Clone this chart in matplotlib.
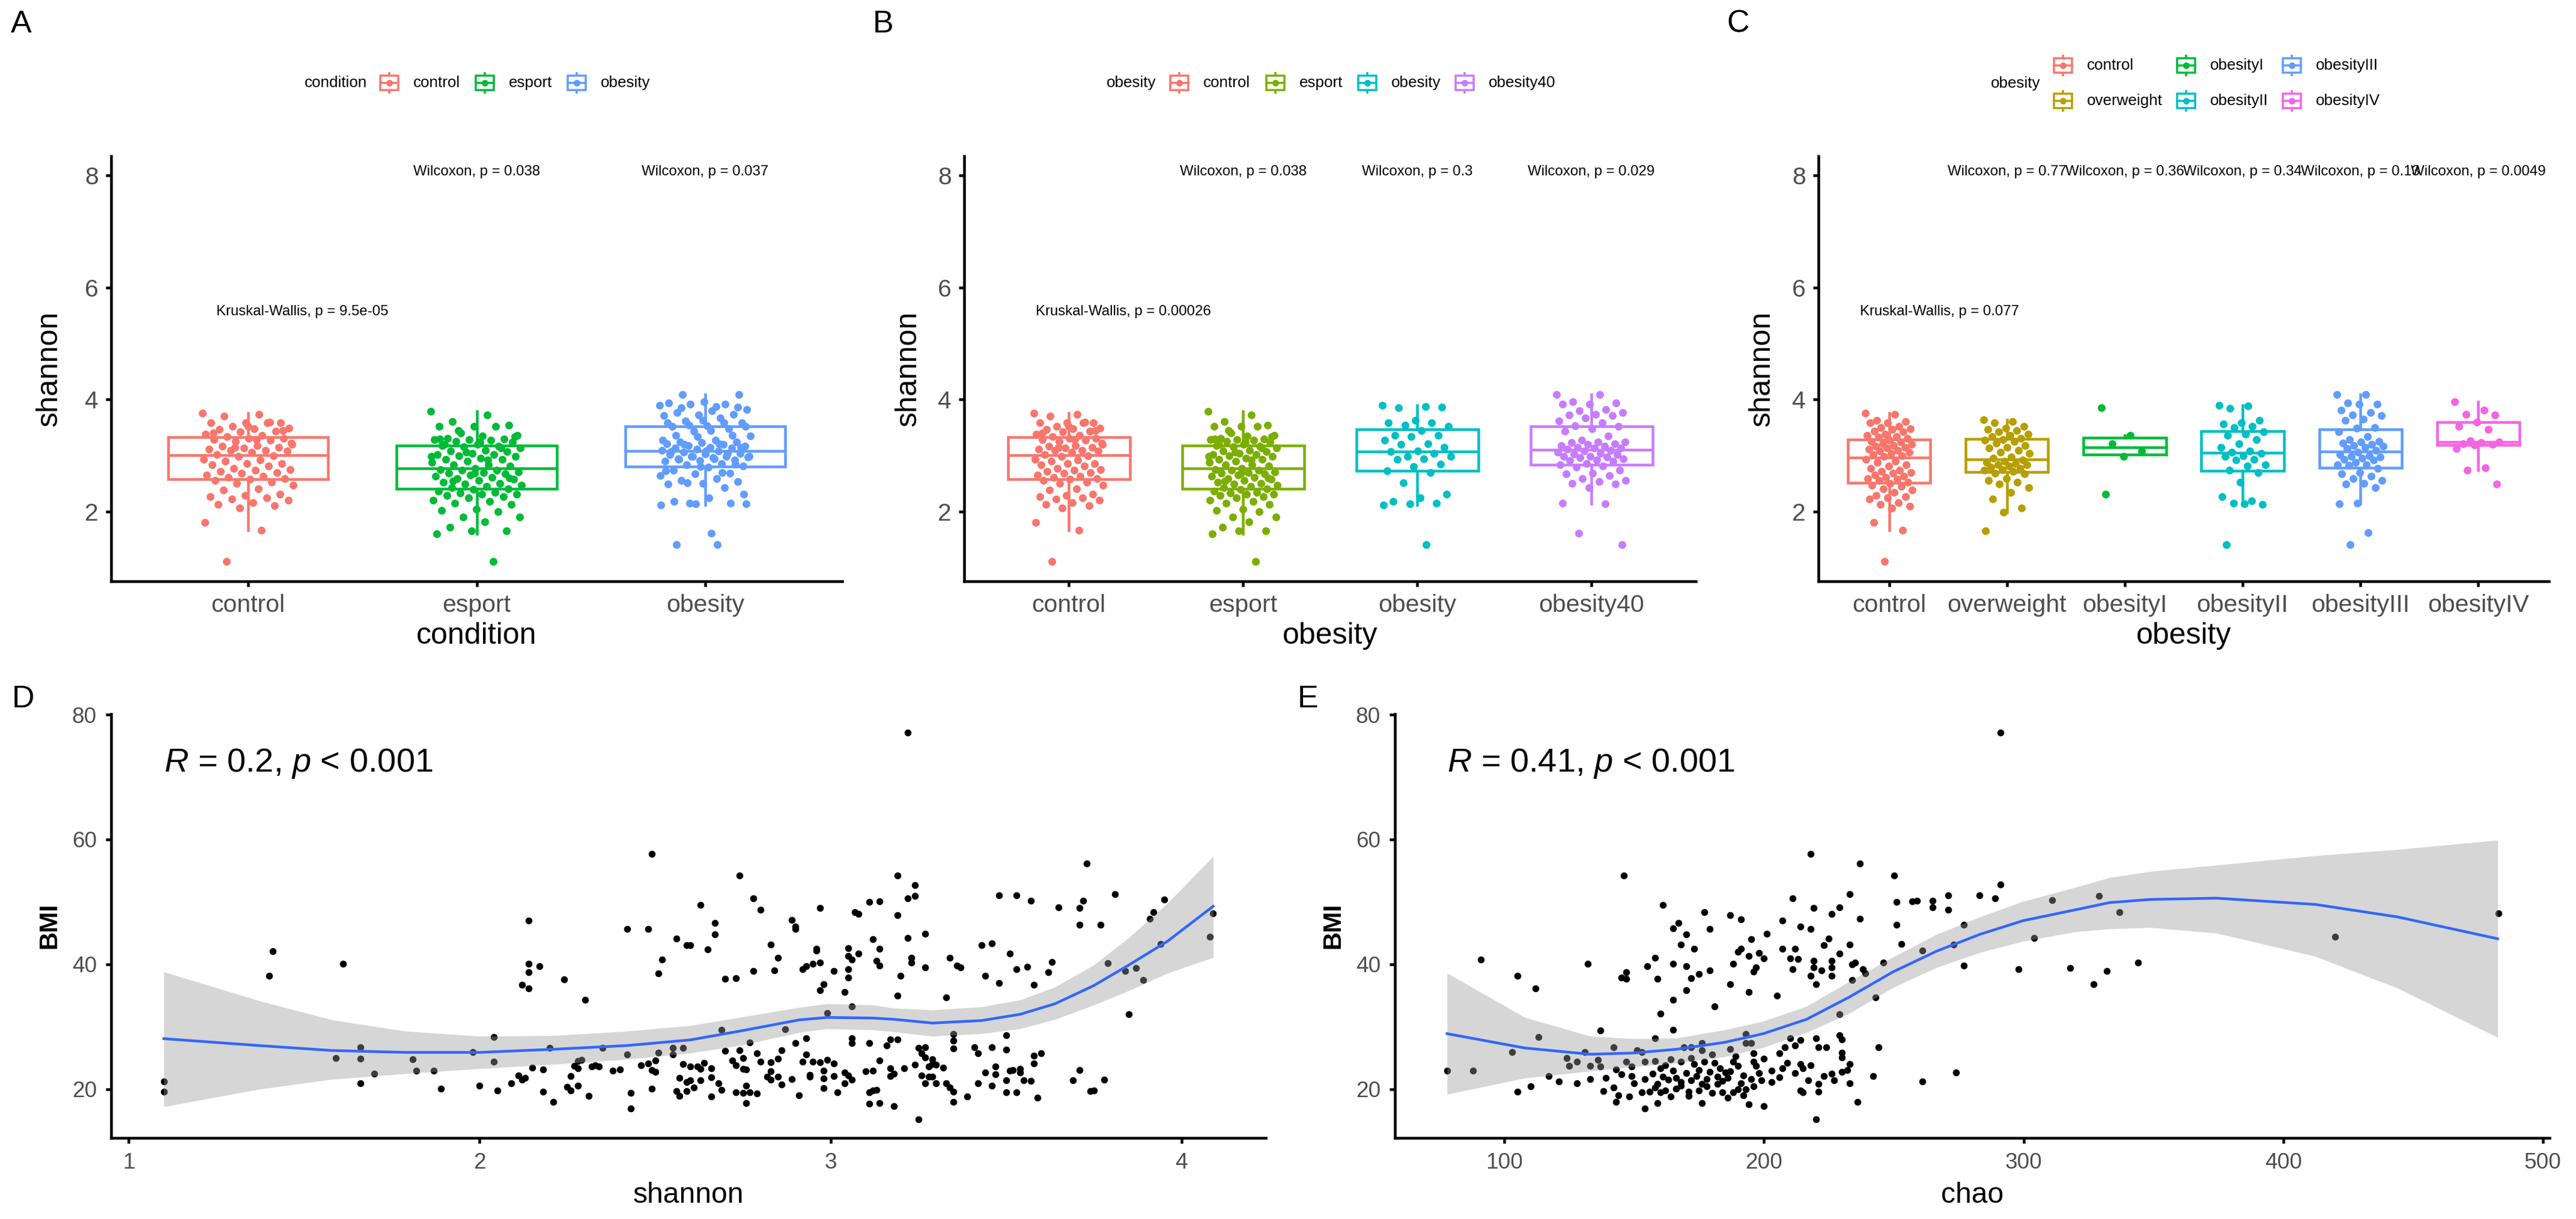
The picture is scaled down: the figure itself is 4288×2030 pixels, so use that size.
import numpy as np
import matplotlib
matplotlib.use("Agg")
import matplotlib.pyplot as plt
from matplotlib.patches import Rectangle

plt.rcParams['font.family'] = ['Liberation Sans', 'DejaVu Sans']
plt.rcParams['mathtext.fontset'] = 'custom'
plt.rcParams['mathtext.rm'] = 'Liberation Sans'
plt.rcParams['mathtext.it'] = 'Liberation Sans:italic'

# %% data: shannon values per group (top row)
control = [3.76, 3.74, 3.70, 3.59, 3.59, 3.59, 3.58, 3.52, 3.49, 3.48, 3.47, 3.43, 3.42, 3.38, 3.36,
           3.34, 3.31, 3.31, 3.29, 3.27, 3.25, 3.20, 3.18, 3.17, 3.15, 3.13, 3.11, 3.09, 3.09, 3.08,
           3.06, 3.02, 3.00, 2.99, 2.93, 2.92, 2.90, 2.86, 2.86, 2.83, 2.81, 2.77, 2.75, 2.74, 2.72,
           2.70, 2.68, 2.65, 2.63, 2.61, 2.59, 2.58, 2.56, 2.52, 2.50, 2.47, 2.41, 2.38, 2.31, 2.29,
           2.27, 2.25, 2.22, 2.20, 2.16, 2.13, 2.11, 2.06, 1.81, 1.67, 1.11,
           3.45, 3.52, 3.40, 3.60, 3.15, 3.22, 3.28]
esport = [3.79, 3.72, 3.61, 3.54, 3.52, 3.52, 3.52, 3.40, 3.36, 3.35, 3.31, 3.30, 3.29, 3.29, 3.27,
          3.25, 3.24, 3.20, 3.18, 3.17, 3.16, 3.13, 3.09, 3.08, 3.07, 3.04, 3.02, 3.02, 3.00, 2.99,
          2.95, 2.93, 2.93, 2.90, 2.88, 2.84, 2.83, 2.81, 2.77, 2.75, 2.74, 2.74, 2.71, 2.70, 2.68,
          2.67, 2.65, 2.63, 2.61, 2.59, 2.58, 2.56, 2.52, 2.50, 2.49, 2.47, 2.45, 2.43, 2.41, 2.40,
          2.36, 2.34, 2.33, 2.31, 2.31, 2.29, 2.27, 2.25, 2.20, 2.18, 2.15, 2.13, 2.04, 2.02, 2.00,
          1.90, 1.90, 1.82, 1.72, 1.66, 1.66, 1.60, 1.11,
          3.45, 3.34, 3.24, 3.20, 3.13, 3.06, 2.99, 2.92, 2.55, 2.60, 2.68, 3.30]
obesity = [3.90, 3.87, 3.85, 3.86, 3.63, 3.59, 3.58, 3.54, 3.52, 3.45, 3.36, 3.36, 3.34, 3.27, 3.21,
           3.20, 3.15, 3.08, 3.07, 3.04, 2.99, 2.98, 2.94, 2.93, 2.85, 2.80, 2.73, 2.70, 2.51, 2.31,
           2.25, 2.18, 2.15, 2.14, 2.12, 1.41]
obesity40 = [4.09, 4.09, 3.96, 3.94, 3.92, 3.92, 3.82, 3.80, 3.77, 3.74, 3.72, 3.71, 3.67, 3.62, 3.59,
             3.53, 3.52, 3.48, 3.43, 3.35, 3.27, 3.24, 3.24, 3.23, 3.21, 3.20, 3.18, 3.17, 3.15, 3.14,
             3.13, 3.11, 3.09, 3.08, 3.06, 3.04, 3.03, 3.02, 2.99, 2.99, 2.97, 2.96, 2.94, 2.92, 2.91,
             2.90, 2.86, 2.84, 2.81, 2.79, 2.74, 2.68, 2.67, 2.64, 2.59, 2.56, 2.53, 2.50, 2.49, 2.43,
             2.15, 2.14, 1.61, 1.41]
obesity_all = obesity + obesity40

c_control = [3.76, 3.74, 3.63, 3.61, 3.59, 3.58, 3.52, 3.50, 3.48, 3.47, 3.43, 3.42, 3.38, 3.36, 3.34,
             3.33, 3.31, 3.27, 3.25, 3.24, 3.21, 3.20, 3.18, 3.17, 3.15, 3.13, 3.11, 3.09, 3.08, 3.06,
             3.04, 3.02, 3.00, 2.99, 2.93, 2.90, 2.88, 2.84, 2.81, 2.77, 2.74, 2.72, 2.70, 2.68, 2.65,
             2.63, 2.61, 2.59, 2.58, 2.56, 2.52, 2.50, 2.47, 2.45, 2.41, 2.38, 2.34, 2.29, 2.27, 2.25,
             2.22, 2.16, 2.13, 2.09, 2.06, 1.81, 1.67, 1.11]
c_overweight = [3.64, 3.61, 3.58, 3.52, 3.49, 3.47, 3.45, 3.42, 3.38, 3.36, 3.34, 3.31, 3.29, 3.27,
                3.25, 3.22, 3.18, 3.15, 3.13, 3.09, 3.06, 3.04, 2.97, 2.95, 2.92, 2.90, 2.88, 2.86,
                2.84, 2.83, 2.81, 2.79, 2.77, 2.75, 2.74, 2.72, 2.68, 2.67, 2.59, 2.56, 2.52, 2.49,
                2.43, 2.34, 2.22, 2.06, 1.99, 1.66]
c_obesity1 = [3.85, 3.36, 3.21, 3.08, 2.99, 2.31]
c_obesity2 = [3.90, 3.88, 3.84, 3.63, 3.59, 3.56, 3.52, 3.50, 3.42, 3.38, 3.36, 3.29, 3.21, 3.15, 3.08,
              3.06, 3.04, 3.00, 2.99, 2.93, 2.92, 2.84, 2.81, 2.74, 2.70, 2.52, 2.27, 2.19, 2.15, 2.13,
              2.14, 1.41]
c_obesity3 = [4.09, 4.09, 3.94, 3.92, 3.92, 3.81, 3.77, 3.72, 3.71, 3.65, 3.63, 3.50, 3.49, 3.42, 3.34,
              3.29, 3.25, 3.24, 3.22, 3.20, 3.18, 3.17, 3.15, 3.12, 3.09, 3.06, 3.02, 3.00, 2.99, 2.97,
              2.95, 2.93, 2.92, 2.88, 2.84, 2.83, 2.82, 2.77, 2.70, 2.67, 2.63, 2.59, 2.56, 2.50, 2.49,
              2.43, 2.15, 2.14, 1.62, 1.41]
c_obesity4 = [3.96, 3.81, 3.74, 3.72, 3.60, 3.52, 3.47, 3.26, 3.24, 3.23, 3.21, 3.20, 3.19, 3.12, 2.78,
              2.74, 2.49]

cats_a = ['control', 'esport', 'obesity']
cats_b = ['control', 'esport', 'obesity', 'obesity40']
cats_c = ['control', 'overweight', 'obesityI', 'obesityII', 'obesityIII', 'obesityIV']

kw_a = 'Kruskal-Wallis, p = 9.5e-05'
kw_b = 'Kruskal-Wallis, p = 0.00026'
kw_c = 'Kruskal-Wallis, p = 0.077'
wil_a = ['Wilcoxon, p = 0.038', 'Wilcoxon, p = 0.037']
wil_b = ['Wilcoxon, p = 0.038', 'Wilcoxon, p = 0.3', 'Wilcoxon, p = 0.029']
wil_c = ['Wilcoxon, p = 0.77', 'Wilcoxon, p = 0.36', 'Wilcoxon, p = 0.34', 'Wilcoxon, p = 0.13',
         'Wilcoxon, p = 0.0049']

# %% data: scatter panels (bottom row)
shannon_d = [1.10, 1.10, 1.41, 1.40, 1.61, 1.59, 1.66, 1.66, 1.66, 1.70, 1.81, 1.82, 1.87, 1.89, 1.98,
             2.00, 2.04, 2.04, 2.05, 2.09, 2.11, 2.12, 2.13, 2.12, 2.14, 2.14, 2.14, 2.14, 2.17, 2.15,
             2.18, 2.18, 2.20, 2.21, 2.24, 2.26, 2.25, 2.26, 2.28, 2.27, 2.28, 2.28, 2.29, 2.30, 2.31,
             2.32, 2.33, 2.34, 2.35, 2.38, 2.40, 2.42, 2.42, 2.43, 2.43, 2.46, 2.48, 2.48, 2.49, 2.49,
             2.49, 2.50, 2.50, 2.51, 2.51, 2.52, 2.55, 2.55, 2.56, 2.56, 2.57, 2.57, 2.58, 2.58, 2.59,
             2.59, 2.59,
             3.22, 2.60, 2.63, 2.65, 2.67, 2.67, 2.70, 2.73, 2.74, 2.78, 2.78, 2.80, 2.83, 2.84, 2.85,
             2.89, 2.90, 2.90, 2.92, 2.93, 2.95, 2.97, 2.96, 2.96, 2.97, 2.98, 2.97, 3.01, 3.04, 3.05,
             3.05, 3.06, 3.05, 3.05, 3.07, 3.08, 3.08, 3.11, 3.14, 3.12, 3.13, 3.14, 3.14, 3.19, 3.19,
             3.19, 3.20, 3.22, 3.22, 3.24, 3.24, 3.23, 3.23, 3.27, 3.27, 3.33, 3.34, 3.36, 3.37, 3.43,
             3.44, 3.46, 3.48, 3.48, 3.51, 3.53, 3.53, 3.57, 3.56, 3.58, 3.62, 3.63, 3.65, 3.71, 3.72,
             3.71, 3.73, 3.77, 3.79, 3.81, 3.84, 3.87, 3.89, 3.85, 3.91, 3.92, 3.94, 3.95, 4.09, 4.08,
             2.69, 2.87, 2.99, 3.06, 2.77, 2.70, 2.74, 2.79, 2.86, 2.90, 2.93, 3.06, 3.06, 3.11, 3.17,
             3.19, 3.16, 3.35, 3.35, 3.35, 3.50, 3.50, 3.41, 3.42, 3.46, 3.25, 3.27, 3.60, 3.58,
             2.60, 2.62, 2.63, 2.64, 2.66, 2.60, 2.61, 2.63, 2.66, 2.68, 2.69, 2.66, 2.72, 2.73, 2.75,
             2.75, 2.76, 2.73, 2.76, 2.75, 2.77, 2.79, 2.76, 2.80, 2.83, 2.83, 2.85, 2.82, 2.83, 2.85,
             2.86, 2.89, 2.91, 2.93, 2.92, 2.95, 2.97, 2.99, 3.01, 2.94, 2.94, 2.98, 2.98, 2.98, 3.01,
             3.02, 3.04, 3.05, 3.04, 3.06, 3.10, 3.12, 3.14, 3.11, 3.12, 3.13, 3.11, 3.14, 3.18, 3.17,
             3.18, 3.17, 3.21, 3.24, 3.26, 3.27, 3.28, 3.29, 3.29, 3.30, 3.28, 3.29, 3.30, 3.32, 3.33,
             3.34, 3.35, 3.35, 3.39, 3.25, 3.26, 3.27, 3.44, 3.47, 3.47, 3.42, 3.46, 3.50, 3.50, 3.51,
             3.52, 3.54, 3.54, 3.55, 3.57, 3.53, 3.59, 3.58, 3.71, 3.69, 3.78, 3.74, 3.75]
bmi_d = [21.2, 19.6, 42.1, 38.2, 40.1, 25.0, 26.7, 24.9, 21.0, 22.5, 24.8, 23.0, 23.0, 20.1, 26.0,
         20.6, 28.4, 24.4, 19.8, 21.0, 22.2, 21.5, 21.8, 36.7, 36.1, 40.1, 38.7, 47.0, 39.7, 23.5,
         19.6, 23.2, 26.6, 18.0, 37.6, 22.1, 20.4, 19.8, 20.6, 23.7, 24.5, 23.4, 24.7, 34.3, 18.9,
         23.6, 23.8, 23.6, 26.6, 23.0, 23.2, 45.7, 25.6, 19.4, 16.9, 23.8, 24.1, 45.7, 57.7, 20.1,
         23.1, 22.8, 24.6, 25.9, 38.6, 40.8, 26.6, 25.6, 19.7, 44.1, 21.8, 18.9, 26.6, 24.0, 21.1,
         43.1, 19.7,
         77.1, 43.1, 49.5, 42.4, 46.6, 44.8, 37.7, 37.8, 54.2, 50.6, 38.9, 48.7, 43.2, 39.0, 41.1,
         47.1, 46.1, 45.7, 39.2, 39.7, 40.1, 40.3, 42.5, 42.2, 49.0, 36.8, 35.9, 38.9, 35.6, 42.6,
         41.3, 40.8, 39.2, 37.9, 48.4, 48.1, 41.7, 50.0, 50.1, 44.0, 40.6, 39.8, 42.5, 54.2, 47.9,
         35.0, 38.2, 44.2, 50.6, 52.7, 51.0, 41.1, 40.3, 44.9, 39.5, 34.7, 41.1, 39.8, 39.5, 43.1,
         38.2, 43.4, 51.1, 37.0, 41.7, 51.1, 39.2, 50.2, 39.6, 36.7, 38.7, 40.4, 49.1, 49.0, 50.2,
         46.3, 56.2, 46.3, 40.2, 51.2, 38.9, 39.4, 37.5, 32.0, 47.3, 48.4, 43.3, 50.4, 48.2, 44.4,
         29.5, 29.6, 32.2, 33.3, 27.5, 26.1, 26.2, 25.8, 26.2, 27.4, 28.2, 28.2, 27.4, 27.4, 28.0,
         28.0, 27.0, 28.8, 27.8, 26.5, 28.6, 26.3, 26.7, 25.8, 26.7, 26.6, 26.7, 25.8, 25.4,
         23.6, 23.6, 23.3, 24.2, 23.4, 21.4, 20.3, 21.4, 21.9, 21.0, 19.9, 18.8, 24.6, 23.8, 25.0,
         23.3, 23.2, 19.5, 20.6, 19.4, 19.5, 19.3, 17.8, 24.4, 24.3, 22.9, 24.9, 22.0, 21.5, 22.0,
         20.8, 21.6, 19.0, 25.6, 24.4, 24.4, 24.3, 24.7, 24.1, 22.3, 22.0, 23.0, 21.7, 20.2, 22.1,
         19.5, 22.7, 22.2, 21.0, 21.5, 22.9, 23.0, 24.6, 19.5, 19.8, 19.9, 17.7, 17.8, 17.3, 23.4,
         22.5, 22.1, 23.4, 23.9, 22.2, 21.0, 23.6, 24.0, 24.8, 23.9, 22.0, 22.0, 21.0, 23.5, 21.0,
         20.3, 19.6, 18.0, 18.8, 15.2, 25.8, 25.1, 22.7, 23.6, 22.4, 21.0, 20.6, 21.4, 19.5, 23.0,
         23.1, 22.7, 23.3, 21.4, 21.3, 19.5, 18.6, 24.1, 23.1, 21.4, 21.5, 19.7, 19.8]

chao_e = [291, 218, 237, 146, 250, 291, 233, 271, 283, 289, 211, 251, 257, 259, 265, 265, 271, 161,
          219, 229, 226, 177, 187, 191, 237, 167, 165, 179, 207, 214, 218, 251, 170, 195, 201, 225,
          168, 173, 223, 233, 253, 191, 190, 207, 212, 194, 198, 200, 210, 213, 229, 158, 91, 132,
          155, 165, 170, 188, 197, 196, 179, 175, 211, 219, 219, 222, 226, 226, 226, 234, 235, 238,
          239, 246, 277, 298, 318, 218, 145, 147, 147, 159, 172, 105, 220, 234, 187, 170, 194, 112,
          205, 165, 243, 181, 160, 229, 277, 273, 261, 304, 311,
          137, 165, 113, 158, 103, 131, 142, 151, 153, 169, 172, 176, 176, 187, 193, 193, 195, 210,
          214, 220, 229, 230, 208, 212, 221, 224, 244, 206, 196, 189, 78, 88, 124, 128, 125, 136,
          133, 137, 143, 147, 149, 154, 158, 160, 164, 168, 172, 173, 177, 181, 188, 190, 196, 197,
          207, 209, 214, 215, 230, 230, 233, 232, 226, 230, 117, 121, 128, 110, 105, 133, 149, 154,
          159, 161, 163, 166, 166, 168, 172, 174, 178, 179, 182, 182, 185, 186, 191, 195, 199, 203,
          217, 221, 223, 227, 233, 242, 261, 274, 138, 142, 144, 153, 156, 160, 162, 164, 171, 175,
          178, 180, 184, 188, 190, 192, 193, 214, 215, 221, 148, 143, 159, 154, 176, 194, 200, 236,
          220,
          329, 337, 344, 332, 327, 420, 483,
          150, 157, 162, 170, 175, 183, 187, 192, 198, 203, 168, 176, 184, 196, 206, 212, 145, 139,
          171, 186, 165, 180, 200, 218, 158]
bmi_e = [77.1, 57.7, 56.2, 54.2, 54.2, 52.8, 51.2, 51.1, 51.1, 50.6, 50.6, 50.0, 50.1, 50.2, 50.2,
         49.1, 48.7, 49.5, 49.0, 49.1, 48.1, 48.4, 47.9, 47.2, 47.3, 46.6, 45.8, 45.7, 47.0, 46.1,
         45.7, 46.3, 44.8, 44.0, 44.9, 44.1, 43.2, 42.5, 43.1, 43.2, 43.3, 42.5, 42.0, 42.5, 42.5,
         41.3, 41.8, 41.0, 41.0, 40.9, 41.7, 41.1, 40.8, 40.1, 39.7, 40.1, 39.7, 40.1, 39.5, 38.8,
         39.0, 38.5, 39.2, 40.6, 39.5, 39.0, 40.6, 39.5, 38.2, 40.0, 40.3, 39.2, 38.6, 40.3, 39.8,
         39.2, 39.4, 38.2, 37.9, 37.7, 38.7, 37.7, 37.8, 38.2, 36.8, 37.5, 36.8, 35.9, 35.6, 36.1,
         35.0, 34.3, 34.7, 33.3, 32.1, 32.0, 46.3, 43.2, 42.2, 44.2, 50.3,
         29.4, 29.5, 28.4, 28.2, 26.0, 26.0, 26.7, 26.2, 26.0, 26.7, 26.7, 27.4, 26.2, 26.4, 28.8,
         27.4, 27.4, 28.2, 27.9, 28.2, 28.6, 28.0, 26.7, 27.0, 26.7, 26.7, 26.7, 25.8, 25.8, 25.3,
         23.0, 23.0, 25.0, 24.4, 23.7, 24.7, 23.7, 23.6, 23.2, 24.4, 23.6, 24.4, 24.5, 23.4, 24.8,
         24.4, 25.0, 24.0, 24.4, 24.2, 24.4, 23.7, 24.4, 23.7, 23.4, 24.2, 24.0, 23.4, 25.9, 25.1,
         24.0, 23.1, 22.5, 22.8, 22.1, 21.2, 21.0, 20.5, 19.6, 21.6, 22.1, 21.6, 20.9, 22.0, 21.5,
         21.8, 20.1, 21.1, 21.4, 22.1, 21.6, 22.8, 22.0, 20.9, 22.7, 21.8, 21.0, 21.6, 21.4, 21.1,
         21.4, 20.9, 22.1, 21.4, 21.0, 22.1, 21.2, 22.7, 19.7, 20.3, 19.0, 19.5, 19.6, 19.5, 19.8,
         18.8, 19.6, 19.8, 20.5, 19.4, 19.5, 19.5, 20.0, 19.0, 20.0, 19.8, 19.5, 19.6, 18.8, 18.0,
         17.8, 16.9, 17.8, 17.6, 17.3, 18.0, 15.2,
         51.0, 48.4, 40.3, 38.9, 36.8, 44.4, 48.2,
         21.0, 22.5, 23.8, 22.6, 23.1, 23.4, 22.9, 22.2, 22.6, 23.0, 20.6, 20.9, 21.3, 20.5, 21.9,
         22.6, 22.4, 21.8, 18.9, 18.6, 23.0, 25.6, 24.9, 23.8, 20.3]

# loess fits
smooth_d_x = [1.10, 1.37, 1.58, 1.79, 2.00, 2.21, 2.42, 2.60, 2.75, 2.91, 2.99, 3.12, 3.18, 3.29, 3.43,
              3.54, 3.64, 3.75, 3.85, 3.96, 4.09]
smooth_d_fit = [28.1, 27.0, 26.2, 25.9, 25.9, 26.4, 27.0, 27.9, 29.4, 31.1, 31.5, 31.4, 31.2, 30.6, 31.0,
                32.0, 33.7, 36.6, 39.9, 43.7, 49.3]
smooth_d_hi = [38.8, 34.2, 31.1, 29.3, 28.5, 28.6, 29.3, 30.2, 31.6, 33.1, 33.7, 33.5, 33.0, 32.7, 33.2,
               34.3, 36.4, 39.9, 44.3, 49.8, 57.3]
smooth_d_lo = [17.2, 20.0, 21.6, 22.5, 23.3, 24.0, 24.8, 25.8, 27.1, 29.1, 29.7, 29.5, 29.2, 28.5, 28.9,
               29.7, 31.2, 33.5, 35.8, 38.6, 41.1]
smooth_e_x = [77.9, 107.9, 133.0, 149.6, 166.3, 184.7, 199.7, 216.4, 233.0, 249.7, 266.4, 283.1, 299.8,
              319.5, 333.2, 349.0, 374.3, 412.3, 444.0, 482.6]
smooth_e_fit = [28.9, 26.6, 25.6, 25.8, 26.4, 27.5, 28.9, 31.2, 34.8, 38.8, 42.1, 44.8, 47.0, 48.7, 49.9,
                50.4, 50.6, 49.6, 47.6, 44.1]
smooth_e_hi = [38.6, 31.5, 28.5, 28.1, 28.2, 29.5, 30.9, 33.3, 37.3, 41.2, 44.8, 47.6, 50.1, 52.3, 53.9,
               54.9, 55.9, 57.4, 58.4, 59.9]
smooth_e_lo = [19.2, 21.8, 22.9, 23.6, 24.2, 25.2, 26.7, 29.1, 32.2, 36.3, 39.5, 41.9, 43.7, 45.2, 45.7,
               45.9, 45.0, 41.3, 36.2, 28.3]

pal3 = ['#F8766D', '#00BA38', '#619CFF']
pal4 = ['#F8766D', '#7CAE00', '#00BFC4', '#C77CFF']
pal6 = ['#F8766D', '#B79F00', '#00BA38', '#00BFC4', '#619CFF', '#F564E3']

# %% figure in pixel units
W, H = 4288, 2030
DPI = 64
P = 72 / DPI  # points per pixel
fig = plt.figure(figsize=(W / DPI, H / DPI), dpi=DPI)
GREY = '#4D4D4D'


def axes_px(x0, y0, x1, y1):
    return fig.add_axes([x0 / W, 1 - y1 / H, (x1 - x0) / W, (y1 - y0) / H])


def style_axes(ax, tick_size, pad):
    for s in ['top', 'right']:
        ax.spines[s].set_visible(False)
    for s in ['left', 'bottom']:
        ax.spines[s].set_linewidth(4.5 * P)
    ax.tick_params(axis='both', length=9 * P, width=4.5 * P, color='black',
                   labelcolor=GREY, labelsize=tick_size * P, pad=pad * P)


def box_panel(ax, cats, groups, colors, xlabel, kw_text, kw_x, wil_texts, ylab_x):
    pos = np.arange(1, len(cats) + 1)
    bp = ax.boxplot(groups, positions=pos, widths=0.7, showfliers=False, showcaps=False,
                    patch_artist=True, whis=1.5, zorder=2)
    for i, c in enumerate(colors):
        bp['boxes'][i].set(facecolor='white', edgecolor=c, linewidth=4.5 * P)
        bp['medians'][i].set(color=c, linewidth=4.5 * P)
        for w in bp['whiskers'][2 * i:2 * i + 2]:
            w.set(color=c, linewidth=4.5 * P)
    for p, vals, c in zip(pos, groups, colors):
        n = len(vals)
        jit = ((np.arange(n) * 0.6180339887) % 1.0 - 0.5) * 0.4
        ax.scatter(p + jit, vals, s=(13 * P) ** 2, color=c, lw=0, zorder=3)
    ax.set_xlim(0.4, len(cats) + 0.6)
    ax.set_ylim(0.755, 8.345)
    ax.set_yticks([2, 4, 6, 8])
    ax.set_xticks(pos, cats)
    style_axes(ax, 41, 12)
    ax.set_ylabel('shannon', fontsize=50 * P, va='center')
    ax.yaxis.set_label_coords(ylab_x, 0.5)
    ax.set_xlabel(xlabel, fontsize=50 * P, va='center')
    ax.xaxis.set_label_coords(0.5, -0.1285)
    ax.text(kw_x, 5.5, kw_text, fontsize=24 * P, ha='left', va='baseline')
    for i, t in enumerate(wil_texts):
        ax.text(i + 2, 8.0, t, fontsize=24 * P, ha='center', va='baseline')


def scatter_panel(ax, x, y, sx, sfit, slo, shi, xlabel, r_text, xlim, xticks):
    ax.scatter(x, y, s=(11.5 * P) ** 2, color='black', lw=0, zorder=2)
    ax.fill_between(sx, slo, shi, color='#999999', alpha=0.4, lw=0, zorder=3)
    ax.plot(sx, sfit, color='#3366FF', lw=4.5 * P, zorder=4)
    ax.set_xlim(*xlim)
    ax.set_ylim(12.2, 80.1)
    ax.set_xticks(xticks)
    ax.set_yticks([20, 40, 60, 80])
    style_axes(ax, 37, 15)
    ax.set_xlabel(xlabel, fontsize=48 * P, va='center')
    ax.xaxis.set_label_coords(0.5, -0.1346)
    ax.set_ylabel('BMI', fontsize=42 * P, fontweight='bold', va='center')
    ax.yaxis.set_label_coords(-0.0536, 0.5)
    ax.text(min(x), 70.9, r_text, fontsize=56 * P, ha='left', va='baseline')


ax_a = axes_px(185, 260, 1402, 968)
box_panel(ax_a, cats_a, [control, esport, obesity_all], pal3, 'condition', kw_a, 0.86, wil_a, -0.0846)
ax_b = axes_px(1605, 260, 2823, 968)
box_panel(ax_b, cats_b, [control, esport, obesity, obesity40], pal4, 'obesity', kw_b, 0.81, wil_b, -0.0764)
ax_c = axes_px(3027, 260, 4243, 968)
box_panel(ax_c, cats_c, [c_control, c_overweight, c_obesity1, c_obesity2, c_obesity3, c_obesity4],
          pal6, 'obesity', kw_c, 0.75, wil_c, -0.0773)

ax_d = axes_px(185, 1189, 2107, 1895)
scatter_panel(ax_d, shannon_d, bmi_d, smooth_d_x, smooth_d_fit, smooth_d_lo, smooth_d_hi,
              'shannon', '$R$ = 0.2, $p$ < 0.001', (0.95, 4.24), [1, 2, 3, 4])
ax_e = axes_px(2322, 1189, 4244, 1895)
scatter_panel(ax_e, chao_e, bmi_e, smooth_e_x, smooth_e_fit, smooth_e_lo, smooth_e_hi,
              'chao', '$R$ = 0.41, $p$ < 0.001', (57.8, 502.6), [100, 200, 300, 400, 500])

# %% overlay in pixel coordinates: panel tags and legends
ov = fig.add_axes([0, 0, 1, 1], zorder=10)
ov.set_xlim(0, W)
ov.set_ylim(H, 0)
ov.axis('off')
ov.patch.set_alpha(0)

for tag, x, y in [('A', 18, 40), ('B', 1453, 40), ('C', 2874, 40), ('D', 20, 1165), ('E', 2160, 1165)]:
    ov.text(x, y, tag, fontsize=52 * P, ha='left', va='center')


def draw_key(cx, cy, color):
    ov.plot([cx, cx], [cy - 18, cy + 18], color=color, lw=3.5 * P, solid_capstyle='butt', zorder=1)
    ov.add_patch(Rectangle((cx - 15, cy - 12), 30, 24, facecolor='white', edgecolor=color,
                           lw=3.5 * P, zorder=2))
    ov.plot([cx - 15, cx + 15], [cy, cy], color=color, lw=3.5 * P, zorder=3)
    ov.scatter([cx], [cy], s=(11 * P) ** 2, color=color, lw=0, zorder=4)


def legend(title, title_x, title_y, entries):
    ov.text(title_x, title_y, title, fontsize=26 * P, ha='left', va='center')
    for kx, ky, label, color in entries:
        draw_key(kx, ky, color)
        ov.text(kx + 40, ky, label, fontsize=26 * P, ha='left', va='center')


legend('condition', 507, 138, [(648, 138, cats_a[0], pal3[0]), (807, 138, cats_a[1], pal3[1]),
                               (960, 138, cats_a[2], pal3[2])])
legend('obesity', 1842, 138, [(1963, 138, cats_b[0], pal4[0]), (2123, 138, cats_b[1], pal4[1]),
                              (2276, 138, cats_b[2], pal4[2]), (2438, 138, cats_b[3], pal4[3])])
legend('obesity', 3314, 139, [(3434, 109, cats_c[0], pal6[0]), (3434, 168, cats_c[1], pal6[1]),
                              (3639, 109, cats_c[2], pal6[2]), (3639, 168, cats_c[3], pal6[3]),
                              (3815, 109, cats_c[4], pal6[4]), (3815, 168, cats_c[5], pal6[5])])

fig.savefig('out.png', dpi=DPI, facecolor='white')
